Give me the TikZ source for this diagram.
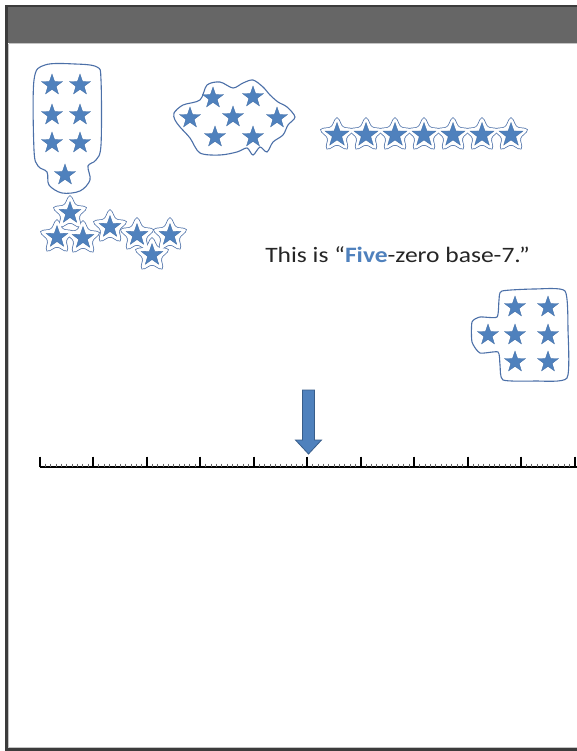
\documentclass[tikz,border=0pt]{standalone}
\usepackage{fontspec}
\setmainfont{Carlito}
\usetikzlibrary{shapes.geometric}
\definecolor{starblue}{HTML}{4F81BD}
\definecolor{stardark}{HTML}{416DA6}
\definecolor{blobblue}{HTML}{4C70A8}
\definecolor{headgray}{HTML}{666666}
\definecolor{framegray}{HTML}{3C3C3C}
\definecolor{linegray}{HTML}{C4C4C4}
\definecolor{textgray}{HTML}{262626}
\definecolor{arrowedge}{HTML}{385D8A}
\tikzset{
  bstar/.style={star, star points=5, star point ratio=2.5, fill=starblue, draw=stardark, line width=0.3pt, inner sep=0pt, minimum size=22pt},
  ostar/.style={star, star points=5, star point ratio=2.1, inner sep=0pt, minimum size=35pt, rounded corners=3pt},
  oline/.style={ostar, draw=blobblue, line width=2.8pt},
  ofill/.style={ostar, fill=white, draw=white, line width=1.3pt},
  blob/.style={draw=blobblue, line width=1.1pt},
  major/.style={line width=2pt, black},
  minor/.style={line width=0.6pt, black!60}
}
\begin{document}
\begin{tikzpicture}[x=1pt,y=-1pt]
\useasboundingbox (0,0) rectangle (577,751);
\fill[white] (0,0) rectangle (577,751);
% header and frame
\fill[headgray] (7,7) rectangle (577,43);
\draw[linegray, line width=1pt] (9,43.8) -- (577,43.8);
\draw[linegray, line width=1pt] (8.8,44) -- (8.8,747.2) -- (577,747.2);
\draw[framegray, line width=2.4pt] (600,6.2) -- (6.4,6.2) -- (6.4,749.4) -- (600,749.4);

% group 1
\draw[blob] plot[smooth cycle, tension=0.55] coordinates {(45,65) (75,64) (97,67) (101,80) (101,145) (96,160) (88,166) (90,180) (80,191) (62,193) (49,185) (47,172) (38,166) (34,150) (34,80)};
\foreach \p [count=\i] in {(52,85),(80,85),(52,115),(80,115),(52,143),(80,143),(65,175)}
  \node[bstar] (ga\i) at \p {};

% group 2
\draw[blob] plot[smooth cycle, tension=0.5] coordinates {(174,113) (183,105) (200,100) (207,85) (220,82) (233,88) (243,83) (253,80) (263,87) (270,95) (278,102) (287,107) (295,117) (288,125) (283,135) (273,142) (267,152) (260,147) (253,155) (247,148) (237,152) (220,155) (200,153) (190,138) (180,127) (175,120)};
\foreach \p [count=\i] in {(190,118),(213,98),(253,97),(233,117),(277,118),(215,137),(253,137)}
  \node[bstar] (gb\i) at \p {};

% group 3
\foreach \x [count=\i] in {337,366,395,424,453,482,511}
  \node[oline] (gco\i) at (\x,135) {};
\foreach \x [count=\i] in {337,366,395,424,453,482,511}
  \node[ofill] (gcf\i) at (\x,135) {};
\foreach \x [count=\i] in {337,366,395,424,453,482,511}
  \node[bstar, minimum size=25pt] (gc\i) at (\x,135) {};

% group 4
\foreach \p [count=\i] in {(70,213),(57,237),(83,238),(110,227),(137,235),(170,235),(152,255)}
  \node[oline] (gdo\i) at \p {};
\foreach \p [count=\i] in {(70,213),(57,237),(83,238),(110,227),(137,235),(170,235),(152,255)}
  \node[ofill] (gdf\i) at \p {};
\foreach \p [count=\i] in {(70,213),(57,237),(83,238),(110,227),(137,235),(170,235),(152,255)}
  \node[bstar, minimum size=23pt] (gd\i) at \p {};

% group 5
\draw[blob] plot[smooth cycle, tension=0.35] coordinates {(502,291) (535,289) (565,291) (568,330) (567,378) (535,381) (503,380) (500,365) (498,352) (480,353) (472,342) (472,322) (480,317) (497,317) (499,300)};
\foreach \p [count=\i] in {(515,307),(548,307),(488,335),(515,335),(548,335),(515,362),(548,362)}
  \node[bstar] (ge\i) at \p {};

% text
\node[font=\fontsize{22}{26}\selectfont, text=textgray, anchor=base, inner sep=0pt, xscale=1.16] (txt) at (397.5,262) {This is “\textcolor{starblue}{\textbf{Five}}-zero base-7.”};

% number line
\draw[major] (40,467) -- (577,467);
\foreach \k in {0,...,10} {
  \draw[major] ({40+53.45*\k},456.5) -- ({40+53.45*\k},467);
}
\foreach \k in {0,...,9} {
  \foreach \m in {1,...,9} {
    \draw[minor] ({40+53.45*\k+5.345*\m},463.5) -- ({40+53.45*\k+5.345*\m},467);
  }
}

% arrow
\draw[fill=starblue, draw=arrowedge, line width=0.8pt, line join=miter]
  (302.5,390) -- (314.5,390) -- (314.5,440) -- (321.5,440) -- (308.5,454) -- (295.5,440) -- (302.5,440) -- cycle;
\end{tikzpicture}
\end{document}
